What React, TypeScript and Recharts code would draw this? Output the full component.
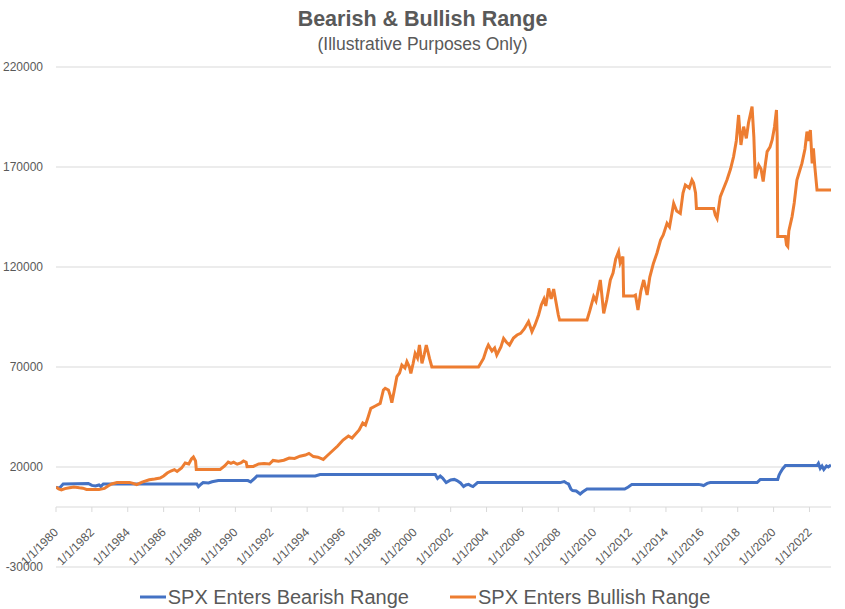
import React from "react";
import {
  LineChart,
  Line,
  XAxis,
  YAxis,
  CartesianGrid,
  ReferenceLine,
  Legend,
} from "recharts";

// ---------- data (decimal years, values) ----------
const bearishYears = [
  1980.0, 1980.2, 1980.4, 1981.8, 1982.0, 1982.2, 1982.4, 1982.5, 1982.64, 1987.85,
  1987.94, 1988.1, 1988.2, 1988.5, 1988.7, 1989.05, 1990.7, 1990.85, 1990.9, 1991.1,
  1991.2, 1994.45, 1994.72, 2001.14, 2001.27, 2001.42, 2001.55, 2001.75, 2002.0, 2002.2,
  2002.35, 2002.55, 2002.72, 2002.85, 2003.0, 2003.15, 2003.24, 2003.5, 2008.1, 2008.33,
  2008.45, 2008.57, 2008.7, 2008.8, 2009.0, 2009.22, 2009.35, 2009.6, 2011.7, 2011.9,
  2012.1, 2015.82, 2016.0, 2016.1, 2016.3, 2016.47, 2019.08, 2019.26, 2020.23, 2020.3,
  2020.38, 2020.5, 2020.66, 2022.42, 2022.5, 2022.6, 2022.7, 2022.8, 2022.95, 2023.05,
  2023.2,
];
const bearishValues = [
  9700, 9500, 11500, 11800, 10800, 10500, 11000, 10300, 11500, 11500,
  10200, 11500, 12200, 12000, 12600, 13200, 13200, 12500, 13000, 14500,
  15500, 15500, 16200, 16300, 14300, 15500, 14500, 12200, 13500, 13800,
  13200, 12000, 10200, 11000, 11300, 10500, 10200, 12200, 12200, 12700,
  12000, 11500, 9000, 8200, 8000, 6500, 7500, 9000, 9000, 10000,
  11300, 11300, 11000, 10700, 11800, 12200, 12200, 13800, 13800, 15800,
  17300, 19000, 20700, 20700, 21800, 19300, 20500, 18800, 20500, 20000,
  21000,
];

const bullishYears = [
  1980.0, 1980.15, 1980.3, 1980.5, 1980.75, 1981.0, 1981.3, 1981.5, 1981.7, 1982.0,
  1982.4, 1982.7, 1982.9, 1983.1, 1983.4, 1983.7, 1984.1, 1984.3, 1984.5, 1984.8,
  1985.2, 1985.5, 1985.8, 1986.0, 1986.2, 1986.4, 1986.6, 1986.75, 1987.0, 1987.2,
  1987.4, 1987.55, 1987.66, 1987.78, 1987.82, 1989.15, 1989.4, 1989.6, 1989.75, 1989.9,
  1990.1, 1990.3, 1990.45, 1990.6, 1990.65, 1991.0, 1991.3, 1991.6, 1991.9, 1992.1,
  1992.4, 1992.7, 1993.0, 1993.3, 1993.6, 1993.9, 1994.1, 1994.35, 1994.6, 1994.9,
  1995.1, 1995.4, 1995.7, 1996.0, 1996.3, 1996.5, 1996.7, 1996.9, 1997.1, 1997.25,
  1997.4, 1997.55, 1997.8, 1998.07, 1998.25, 1998.35, 1998.53, 1998.62, 1998.72, 1998.85,
  1999.0, 1999.15, 1999.28, 1999.45, 1999.56, 1999.7, 1999.78, 1999.9, 2000.02, 2000.15,
  2000.26, 2000.4, 2000.52, 2000.64, 2000.75, 2000.82, 2000.95, 2003.55, 2003.65, 2003.83,
  2004.0, 2004.1, 2004.3, 2004.45, 2004.57, 2004.8, 2004.95, 2005.1, 2005.28, 2005.5,
  2005.7, 2005.9, 2006.1, 2006.34, 2006.53, 2006.7, 2006.9, 2007.05, 2007.2, 2007.3,
  2007.46, 2007.6, 2007.74, 2007.85, 2008.0, 2008.07, 2009.6, 2009.75, 2009.97, 2010.1,
  2010.34, 2010.45, 2010.53, 2010.7, 2010.9, 2011.05, 2011.2, 2011.36, 2011.45, 2011.6,
  2011.64, 2012.2, 2012.3, 2012.44, 2012.6, 2012.76, 2012.95, 2013.1, 2013.3, 2013.5,
  2013.7, 2013.85, 2014.06, 2014.2, 2014.43, 2014.6, 2014.8, 2014.95, 2015.08, 2015.3,
  2015.45, 2015.54, 2015.65, 2015.7, 2016.66, 2016.75, 2016.85, 2017.03, 2017.2, 2017.4,
  2017.6, 2017.77, 2017.92, 2018.05, 2018.12, 2018.18, 2018.33, 2018.48, 2018.6, 2018.8,
  2018.9, 2018.98, 2019.08, 2019.17, 2019.3, 2019.42, 2019.55, 2019.64, 2019.8, 2019.92,
  2020.05, 2020.16, 2020.2, 2020.23, 2020.66, 2020.72, 2020.79, 2020.85, 2021.03, 2021.15,
  2021.3, 2021.45, 2021.58, 2021.75, 2021.86, 2021.95, 2022.05, 2022.15, 2022.22, 2022.3,
  2022.42, 2023.2,
];
const bullishValues = [
  10000, 9000, 8500, 9200, 9600, 10000, 9600, 9400, 8800, 8800,
  8700, 9300, 10500, 11500, 12200, 12300, 12300, 11800, 11200, 12400,
  13600, 14000, 14500, 15500, 17000, 18000, 18700, 17800, 19500, 22000,
  21500, 24000, 25000, 23000, 18800, 18800, 20500, 22500, 21800, 22400,
  21400, 22000, 23000, 22400, 20200, 20300, 21500, 21800, 21500, 23300,
  22900, 23400, 24500, 24300, 25400, 26000, 26800, 25200, 24900, 23800,
  25500, 28000, 30500, 33500, 35500, 34500, 36500, 38500, 42000, 41000,
  45000, 49300, 50500, 51800, 58500, 59300, 58500, 56000, 52200, 58000,
  65200, 67000, 71000, 69500, 72700, 70000, 66800, 71500, 76800, 74500,
  81000, 71800, 76000, 81000, 77000, 74300, 70000, 70000, 71500, 74300,
  79000, 81000, 78000, 79500, 76000, 80000, 84300, 82500, 81000, 84500,
  86000, 86800, 89000, 92700, 87700, 91000, 96000, 101000, 104000, 100500,
  109300, 104000, 109000, 103500, 96000, 93500, 93500, 98000, 105200, 103000,
  113500, 104000, 96800, 103500, 113500, 117000, 124000, 127700, 122000, 125200,
  105500, 105500, 106000, 98500, 108000, 113500, 106000, 115000, 121800, 127000,
  133500, 136000, 141800, 140000, 151800, 148000, 146800, 157000, 161000, 159500,
  163500, 162000, 157000, 149300, 149300, 146000, 144300, 155200, 159000, 163500,
  169000, 175200, 183000, 196000, 188000, 181000, 190200, 184300, 192000, 200200,
  185000, 164300, 168000, 171000, 169000, 162700, 172000, 177700, 180000, 183500,
  190000, 198500, 185000, 135200, 135200, 131000, 130200, 138000, 145200, 152000,
  163500, 168000, 171800, 179000, 187700, 183000, 188500, 171800, 179300, 170000,
  158500, 158500,
];

const xTicks = [
  1980, 1982, 1984, 1986, 1988, 1990, 1992, 1994, 1996, 1998, 2000, 2002,
  2004, 2006, 2008, 2010, 2012, 2014, 2016, 2018, 2020, 2022,
];
const yTicks = [-30000, 20000, 70000, 120000, 170000, 220000];
const seriesNames = ["SPX Enters Bearish Range", "SPX Enters Bullish Range"];
const seriesColors = ["#4472C4", "#ED7D31"];

const bearishData = bearishYears.map((t, i) => ({ t, v: bearishValues[i] }));
const bullishData = bullishYears.map((t, i) => ({ t, v: bullishValues[i] }));

// ---------- layout ----------
const W = 845;
const H = 609;
const MARGIN = { top: 67, right: 14, bottom: 0, left: 0 };
const Y_MIN = -30000;
const Y_MAX = 220000;
const X_MIN = 1980;
const X_MAX = 2023.2;
const FONT = "'Liberation Sans', Arial, Helvetica, sans-serif";
const TEXT = "#595959";
const GRID = "#d9d9d9";
const X_AXIS_H = 18;
const LEGEND_H = 24;
const PLOT_H = H - MARGIN.top - MARGIN.bottom - X_AXIS_H - LEGEND_H;
const ZERO_FROM_BOTTOM = (PLOT_H * (0 - Y_MIN)) / (Y_MAX - Y_MIN);

const XTick = (props: any) => {
  const { x, y, payload } = props;
  const zy = y - ZERO_FROM_BOTTOM;
  const tx = x + 3;
  const ty = zy + 26;
  return (
    <g>
      <line x1={x} x2={x} y1={zy} y2={zy + 5} stroke={GRID} strokeWidth={1} />
      <text
        x={tx}
        y={ty}
        transform={`rotate(-45, ${tx}, ${ty})`}
        textAnchor="end"
        fontSize={12}
        fontFamily={FONT}
        fill={TEXT}
      >
        {`1/1/${payload.value}`}
      </text>
    </g>
  );
};

const LegendContent = () => (
  <div
    style={{
      height: LEGEND_H,
      display: "flex",
      justifyContent: "center",
      alignItems: "center",
      paddingLeft: 19,
      fontFamily: FONT,
      fontSize: 20,
      color: TEXT,
      whiteSpace: "nowrap",
    }}
  >
    {seriesNames.map((name, i) => (
      <div
        key={name}
        style={{ display: "flex", alignItems: "center", marginLeft: i === 0 ? 0 : 41 }}
      >
        <svg width={26} height={4} style={{ display: "block" }}>
          <line x1={0} x2={26} y1={2} y2={2} stroke={seriesColors[i]} strokeWidth={3} />
        </svg>
        <span style={{ marginLeft: 2, lineHeight: `${LEGEND_H}px` }}>{name}</span>
      </div>
    ))}
  </div>
);

export default function App() {
  return (
    <div style={{ position: "relative", width: W, height: H, background: "#fff" }}>
      <style>{"body{margin:0;overflow:hidden;background:#fff}"}</style>
      <LineChart width={W} height={H} margin={MARGIN}>
        <CartesianGrid vertical={false} stroke={GRID} strokeWidth={1} />
        <XAxis
          type="number"
          dataKey="t"
          domain={[X_MIN, X_MAX]}
          ticks={xTicks}
          interval={0}
          axisLine={false}
          tickLine={false}
          tickSize={0}
          tickMargin={0}
          height={X_AXIS_H}
          tick={<XTick />}
          allowDataOverflow
        />
        <YAxis
          type="number"
          domain={[Y_MIN, Y_MAX]}
          ticks={yTicks}
          interval={0}
          axisLine={false}
          tickLine={false}
          tickSize={0}
          tickMargin={13}
          width={56}
          tick={{ fontSize: 12, fill: TEXT, fontFamily: FONT }}
          allowDataOverflow
        />
        <ReferenceLine y={0} stroke={GRID} strokeWidth={1} />
        <Legend
          verticalAlign="bottom"
          align="center"
          height={LEGEND_H}
          content={<LegendContent />}
        />
        <Line
          data={bearishData}
          dataKey="v"
          name={seriesNames[0]}
          stroke={seriesColors[0]}
          strokeWidth={3}
          dot={false}
          activeDot={false}
          type="linear"
          isAnimationActive={false}
        />
        <Line
          data={bullishData}
          dataKey="v"
          name={seriesNames[1]}
          stroke={seriesColors[1]}
          strokeWidth={3}
          dot={false}
          activeDot={false}
          type="linear"
          isAnimationActive={false}
        />
      </LineChart>
      <svg
        width={W}
        height={60}
        style={{ position: "absolute", left: 0, top: 0, pointerEvents: "none" }}
      >
        <text
          x={W / 2}
          y={26}
          textAnchor="middle"
          fontFamily={FONT}
          fontSize={21.5}
          fontWeight="bold"
          fill={TEXT}
        >
          Bearish &amp; Bullish Range
        </text>
        <text
          x={W / 2}
          y={50}
          textAnchor="middle"
          fontFamily={FONT}
          fontSize={17.5}
          fill={TEXT}
        >
          (Illustrative Purposes Only)
        </text>
      </svg>
    </div>
  );
}
